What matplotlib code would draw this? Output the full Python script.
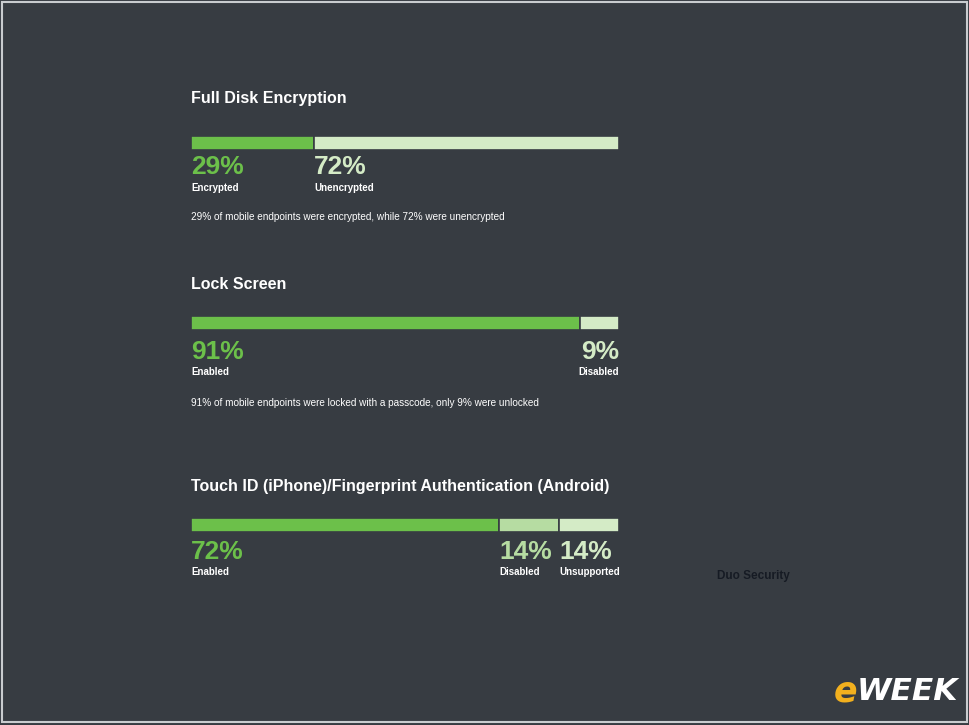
import matplotlib
matplotlib.use("Agg")
import matplotlib.pyplot as plt
from matplotlib.patches import Rectangle

# ---- data ----
titles = ["Full Disk Encryption", "Lock Screen",
          "Touch ID (iPhone)/Fingerprint Authentication (Android)"]
values_1 = [29, 72]
labels_1 = ["Encrypted", "Unencrypted"]
values_2 = [91, 9]
labels_2 = ["Enabled", "Disabled"]
values_3 = [72, 14, 14]
labels_3 = ["Enabled", "Disabled", "Unsupported"]
notes = ["29% of mobile endpoints were encrypted, while 72% were unencrypted",
         "91% of mobile endpoints were locked with a passcode, only 9% were unlocked",
         None]
source = "Duo Security"

BG = "#373c42"
GREEN = "#6cc04a"
LIGHT = "#d4ebc6"
MID = "#b6dca2"
colors = [[GREEN, LIGHT], [GREEN, LIGHT], [GREEN, MID, LIGHT]]
pct_colors = [[GREEN, LIGHT], [GREEN, LIGHT], [GREEN, MID, LIGHT]]
aligns = [["left", "left"], ["left", "right"], ["left", "left", "left"]]

W, H = 970, 725
plt.rcParams['font.family'] = ['Liberation Sans', 'DejaVu Sans']
fig = plt.figure(figsize=(W / 100, H / 100), dpi=100, facecolor=BG)

def fx(px):
    return px / W

def fy(py):
    return 1 - py / H

# border
bg_ax = fig.add_axes([0, 0, 1, 1])
bg_ax.set_xlim(0, W)
bg_ax.set_ylim(H, 0)
bg_ax.axis("off")
bg_ax.add_patch(Rectangle((2, 2), W - 5, H - 5, fill=False, edgecolor="#c9cccf", lw=1.5))

x0, x1 = 191, 619
bar_tops = [136, 316, 518]
bar_h = 14
title_y = [99, 284, 486]
note_y = [217, 403, None]
pct_off = [31, 36, 34]
lab_off = [52, 56, 54]
all_vals = [values_1, values_2, values_3]
all_labs = [labels_1, labels_2, labels_3]

for i in range(3):
    vals = all_vals[i]
    labs = all_labs[i]
    total = sum(vals)
    top = bar_tops[i]
    ax = fig.add_axes([fx(x0), fy(top + 110), fx(x1 - x0), 110 / H])
    ax.set_xlim(0, total)
    ax.set_ylim(110, 0)  # pixel offsets below bar top
    ax.axis("off")
    left = 0
    for j, v in enumerate(vals):
        ax.barh(bar_h / 2, v, left=left, height=bar_h, color=colors[i][j],
                edgecolor=BG, linewidth=1.2)
        al = aligns[i][j]
        xt = left if al == "left" else left + v
        ax.text(xt, pct_off[i], f"{v}%", color=pct_colors[i][j], fontsize=19,
                fontweight="bold", ha=al, va="center")
        ax.text(xt, lab_off[i], labs[j], color="white", fontsize=7,
                fontweight="bold", ha=al, va="center")
        left += v
    fig.text(fx(x0), fy(title_y[i]), titles[i], color="white", fontsize=11.5,
             fontweight="bold", ha="left", va="center")
    if notes[i]:
        fig.text(fx(x0), fy(note_y[i]), notes[i], color="white", fontsize=7.2,
                 ha="left", va="center")

fig.text(fx(717), fy(576), source, color="#161b24", fontsize=8.5,
         fontweight="bold", ha="left", va="center")

# eWEEK logo
fig.text(fx(834), fy(691), "e", color="#f2b01e", fontsize=25, fontweight="heavy",
         style="italic", ha="left", va="center", family="DejaVu Sans")
fig.text(fx(857), fy(691), "WEEK", color="white", fontsize=22.5, fontweight="heavy",
         style="italic", ha="left", va="center", family="DejaVu Sans")

fig.savefig("out.png", dpi=100, facecolor=BG)
